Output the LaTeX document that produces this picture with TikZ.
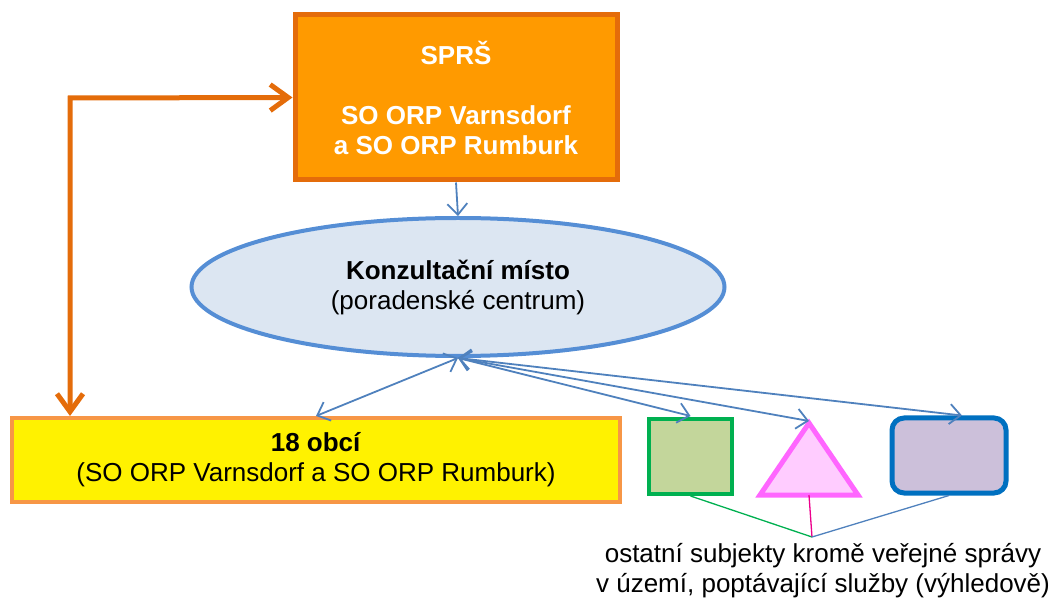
\documentclass[tikz,border=0pt]{standalone}
\usepackage{fontspec}
\setmainfont{Liberation Sans}
\usetikzlibrary{arrows.meta, shapes.geometric}

\definecolor{oranzTmava}{HTML}{E46C0A}
\definecolor{oranzSvetla}{HTML}{FF9A00}
\definecolor{modraCara}{HTML}{4F81BD}
\definecolor{modraElipsa}{HTML}{558ED5}
\definecolor{modraVypln}{HTML}{DCE6F2}
\definecolor{zlutaOkraj}{HTML}{F79646}
\definecolor{zelena}{HTML}{00B050}
\definecolor{zelenaVypln}{HTML}{C3D69B}
\definecolor{ruzova}{HTML}{FF66FF}
\definecolor{ruzovaVypln}{HTML}{FFCCFF}
\definecolor{fialovaVypln}{HTML}{CCC0DA}
\definecolor{modraOkraj}{HTML}{0070C0}

\begin{document}
\begin{tikzpicture}[x=1pt, y=-1pt,
    font=\fontsize{26}{30}\selectfont,
    modra/.style={draw=modraCara, line width=1.8pt,
      arrows={Straight Barb[length=11pt,width=20pt]-Straight Barb[length=11pt,width=20pt]}},
    oranz/.style={draw=oranzTmava, line width=5pt,
      arrows={Straight Barb[length=18pt,width=26pt]-Straight Barb[length=18pt,width=26pt]}},
    spojka/.style={line width=1.3pt}]
    \useasboundingbox (0,0) rectangle (1058,601);

    % horni obdelnik SPRS
    \node[draw=oranzTmava, fill=oranzSvetla, line width=5pt, text=white,
      minimum width=322pt, minimum height=165pt, align=center, font=\fontsize{26}{30}\selectfont\bfseries]
      (sprs) at (456,97.5) {SPRŠ\\[30pt]SO ORP Varnsdorf\\a SO ORP Rumburk};

    % elipsa - konzultacni misto
    \node[ellipse, draw=modraElipsa, fill=modraVypln, line width=4pt,
      minimum width=533pt, minimum height=138pt, inner sep=0pt, align=center]
      (konz) at (458,287) {\textbf{Konzultační místo}\\(poradenské centrum)};

    % zluty obdelnik - obce
    \node[draw=zlutaOkraj, fill=yellow, line width=4pt,
      minimum width=608pt, minimum height=84pt, align=center]
      (obce) at (316,460) {\textbf{18 obcí}\\(SO ORP Varnsdorf a SO ORP Rumburk)};

    % ostatni subjekty: ctverec, trojuhelnik, zaobleny obdelnik
    \node[draw=zelena, fill=zelenaVypln, line width=4pt,
      minimum width=83pt, minimum height=75pt] (ctverec) at (690.5,456.5) {};
    \draw[draw=ruzova, fill=ruzovaVypln, line width=5pt, line join=miter]
      (760,495) -- (809,423) -- (858,495) -- cycle;
    \coordinate (trojV) at (809,421);
    \coordinate (trojZ) at (809,495);
    \node[draw=modraOkraj, fill=fialovaVypln, line width=5pt, rounded corners=12pt,
      minimum width=114pt, minimum height=75pt] (zaobl) at (949,455.5) {};

    % popisek dole
    \coordinate (uzel) at (812,537);
    \node[align=center, anchor=north] (ostatni) at (823,540)
      {ostatní subjekty kromě veřejné správy\\v území, poptávající služby (výhledově)};

    % oranzova lomena sipka
    \coordinate (roh) at (70,98);
    \draw[oranz] (sprs.west) -- (roh) -- (roh |- obce.north);

    % modre sipky
    \draw[draw=modraCara, line width=1.8pt, -{Straight Barb[length=11pt,width=20pt]}]
      (sprs.south) -- (konz.north);
    \draw[modra] (konz.south) -- (obce.north);
    \draw[modra] (konz.south) -- ([yshift=1pt]ctverec.north);
    \draw[modra] (konz.south) -- (trojV);
    \draw[modra] (konz.south) -- ([xshift=13pt]zaobl.north);

    % spojnice k popisku
    \draw[spojka, zelena] (ctverec.south) -- (uzel);
    \draw[spojka, magenta] (trojZ) -- (uzel);
    \draw[spojka, modraCara] (zaobl.south) -- (uzel);
\end{tikzpicture}
\end{document}
